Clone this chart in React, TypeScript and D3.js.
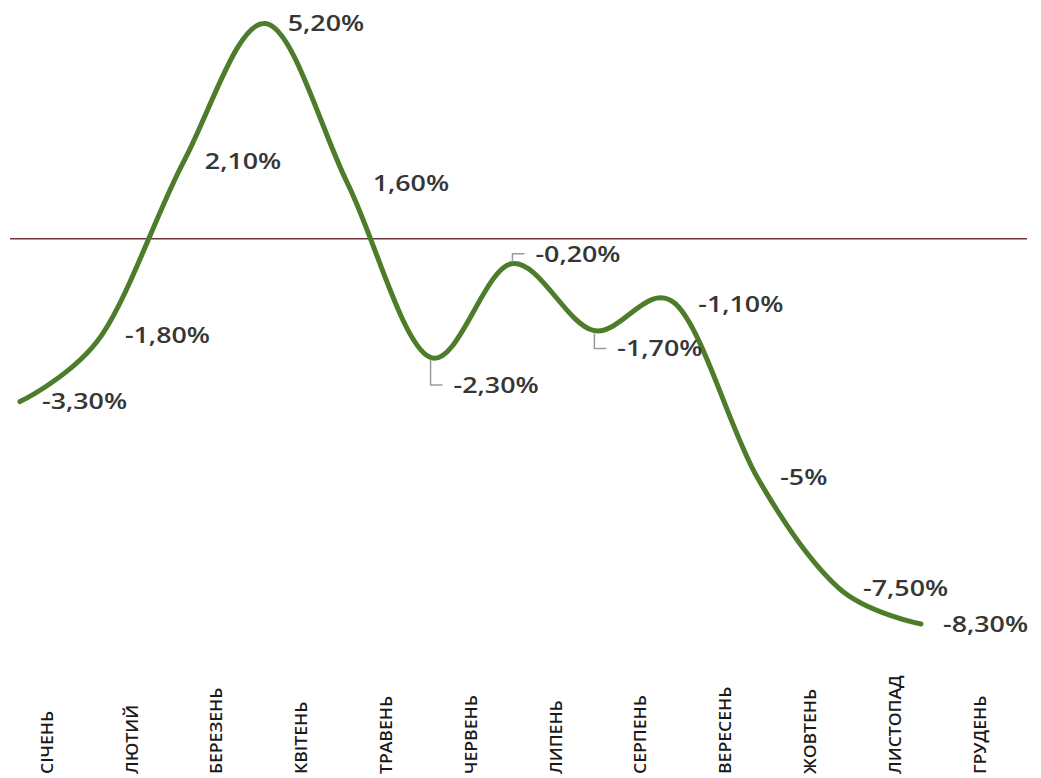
import React from "react";
import * as d3 from "d3";

const months = ["СІЧЕНЬ", "ЛЮТИЙ", "БЕРЕЗЕНЬ", "КВІТЕНЬ", "ТРАВЕНЬ", "ЧЕРВЕНЬ", "ЛИПЕНЬ", "СЕРПЕНЬ", "ВЕРЕСЕНЬ", "ЖОВТЕНЬ", "ЛИСТОПАД", "ГРУДЕНЬ"];
const values = [-3.3, -1.8, 2.1, 5.2, 1.6, -2.3, -0.2, -1.7, -1.1, -5, -7.5, -8.3];
const valueLabels = ["-3,30%", "-1,80%", "2,10%", "5,20%", "1,60%", "-2,30%", "-0,20%", "-1,70%", "-1,10%", "-5%", "-7,50%", "-8,30%"];
const referenceValue = 0.36;

// label placement (layout only): offsets of label centre relative to its point
const labelDy = [0, 0, 0, 0, 0, 28, -10, 18, 0, 0, 0, 0];
const labelDx = [22, 23, 21, 22, 25, 24, 24, 24, 23, 23, 24, 22];

const W = 1041;
const H = 778;

export default function App() {
  const x = d3.scalePoint<number>().domain(values.map((_, i) => i)).range([20, 921]);
  const y = d3.scaleLinear().domain([-8.3, 5.2]).range([624, 23.5]);
  const band = d3.scaleBand<string>().domain(months).range([4.6, 1022.4]);

  const line = d3
    .line<number>()
    .x((_, i) => x(i) as number)
    .y((d) => y(d))
    .curve(d3.curveCatmullRom.alpha(0));

  const fs = 22;
  const capHalf = fs * 0.357;

  return (
    <svg width={W} height={H} style={{ position: "absolute", left: 0, top: 0, background: "#fff" }}>
      <line x1={10} x2={1027} y1={y(referenceValue)} y2={y(referenceValue)} stroke="#6e383b" strokeWidth={1.6} />
      <path d={line(values) || ""} fill="none" stroke="#4d7d2a" strokeWidth={5} strokeLinecap="round" strokeLinejoin="round" />
      {values.map((v, i) => {
        const px = x(i) as number;
        const py = y(v);
        const cy = py + labelDy[i];
        const lx = px + labelDx[i];
        return (
          <g key={i}>
            {labelDy[i] !== 0 && (
              <polyline
                points={`${px + 1},${py + (labelDy[i] > 0 ? 3 : -2)} ${px + 1},${cy} ${lx - 11},${cy}`}
                fill="none"
                stroke="#9a9a9a"
                strokeWidth={1.5}
              />
            )}
            <text
              transform={`translate(${lx},${cy + capHalf}) scale(1.22,1)`}
              fontFamily="'Open Sans', sans-serif"
              fontWeight={600}
              fontSize={fs}
              fill="#363636"
            >
              {valueLabels[i]}
            </text>
          </g>
        );
      })}
      {months.map((m) => {
        const cx = (band(m) as number) + band.bandwidth() / 2;
        return (
          <text
            key={m}
            transform={`translate(${cx + 5.7},774) rotate(-90) scale(1.1,1)`}
            fontFamily="'Open Sans', sans-serif"
            fontWeight={600}
            fontSize={16}
            fill="#1a1a1a"
          >
            {m}
          </text>
        );
      })}
    </svg>
  );
}
